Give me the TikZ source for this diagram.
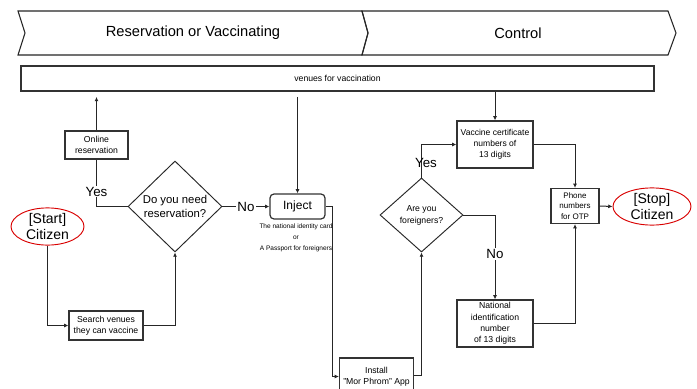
\documentclass[tikz,border=0pt]{standalone}
\usepackage{fontspec}
\setmainfont{Liberation Sans}
\usetikzlibrary{shapes.geometric,arrows.meta}
\begin{document}
\begin{tikzpicture}[x=0.75pt,y=-0.75pt,
  sz/.style 2 args={minimum width=#1*0.75pt,minimum height=#2*0.75pt},
  fs/.style 2 args={font=\fontsize{#1}{#2}\selectfont},
  box/.style={draw=black!80,line width=0.9pt,inner sep=1pt,align=center,fill=white},
  dia/.style={draw=black!85,diamond,line width=0.7pt,inner sep=0pt,align=center},
  term/.style={draw=red!85!black,ellipse,line width=0.7pt,inner sep=0pt,align=center,fs={10.5}{12}},
  chev/.style={draw=black!85,line width=0.8pt},
  line/.style={draw=black!85,line width=0.75pt},
  conn/.style={line,-{Latex[length=3.2pt,width=3pt]}},
  lbl/.style={inner sep=1pt,fs={10}{12}},
]
\clip (0,0) rectangle (697,389);
\fill[white] (0,0) rectangle (697,389);

% header chevrons
\draw[chev] (18,11) -- (362,11) -- (368,33) -- (362,55) -- (18,55) -- (25,33) -- cycle;
\draw[chev] (362,11) -- (668,11) -- (676,33) -- (668,55) -- (362,55) -- (368,33) -- cycle;
\node[fs={11}{13}] (h1) at (193,33) {Reservation or Vaccinating};
\node[fs={11}{13}] (h2) at (518,33) {Control};

% nodes
\node[box,sz={633}{25},fs={6.5}{7.5}] (venues) at (337.5,78.5) {venues for vaccination};
\node[box,sz={63}{28},fs={6.5}{8.5}] (online) at (96.5,145) {Online\\reservation};
\node[dia,sz={94}{91},fs={8.5}{11}] (d1) at (175,206.5) {Do you need\\reservation?};
\node[term,sz={73}{33}] (start) at (47.5,226.5) {[Start]\\Citizen};
\node[box,sz={74}{29},fs={6.5}{8.5}] (search) at (106,325.5) {Search venues\\they can vaccine};
\node[box,rounded corners=3pt,sz={55}{25},fs={9}{10}] (inject) at (297.5,206.5) {Inject};
\node[align=center,fs={4.9}{8.2},inner sep=0pt] (note) at (296,238) {The national identity card\\or\\A Passport for foreigners};
\node[box,sz={74}{37},fs={6.5}{8.3}] (install) at (376.5,376.5) {Install\\"Mor Phrom" App};
\node[dia,sz={83}{74},fs={6.5}{9}] (d2) at (421.5,215) {Are you\\foreigners?};
\node[box,sz={76}{47},fs={6.4}{8.2}] (vaccine) at (495,144.5) {Vaccine certificate\\numbers of\\13 digits};
\node[box,sz={76}{47},fs={6.5}{8.5}] (national) at (495,323.5) {National\\identification\\number\\of 13 digits};
\node[box,sz={48}{35},fs={6}{8}] (phone) at (575,206) {Phone\\numbers\\for OTP};
\node[term,sz={78}{31}] (stop) at (652,206.5) {[Stop]\\Citizen};

% connectors
\draw[conn,shorten >=4pt] (online.north) -- (online.north |- venues.south);
\draw[line] (d1.west) -| (online.south) node[lbl,fill=white,pos=0.66] (yes1) {Yes};
\draw[conn] (d1.east) -- (inject.west) node[lbl,fill=white,midway] (no1) {No};
\draw[conn,shorten <=4pt] (inject.north |- venues.south) -- (inject.north);
\draw[conn] (inject.east) -- ++(7,0) |- (install.west);
\draw[conn] (install.east |- 0,375) -| (d2.south);
\draw[conn] (d2.north) |- (vaccine.west);
\node[lbl] (yes2) at (426,163) {Yes};
\draw[conn] (vaccine.north |- venues.south) -- (vaccine.north);
\draw[conn] (vaccine.east) -| (phone.north);
\draw[conn] (d2.east) -| (national.north) node[lbl,fill=white,pos=0.73] (no2) {No};
\draw[conn] (national.east) -| (phone.south);
\draw[conn] (phone.east) -- (stop.west);
\draw[conn] (start.south) |- (search.west);
\draw[conn] (search.east) -| (d1.south);
\end{tikzpicture}
\end{document}
